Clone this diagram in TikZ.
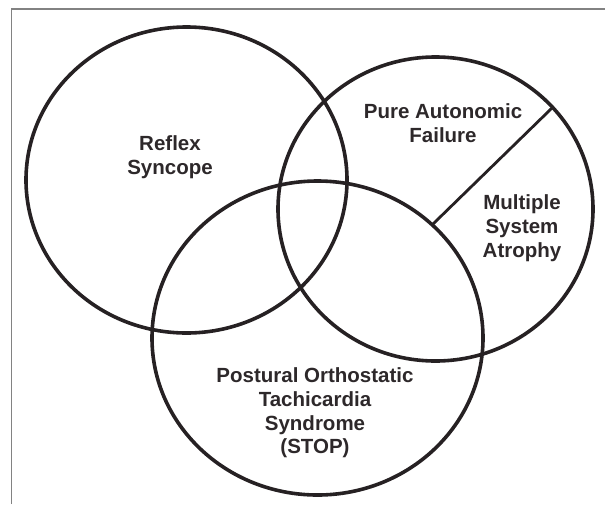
\documentclass[tikz,border=0pt]{standalone}
\usepackage{fontspec}
\usepackage{tikz}
\usetikzlibrary{positioning}
\newfontfamily\vennfont{Liberation Sans}
\definecolor{inkline}{RGB}{38,33,35}
\definecolor{inktext}{RGB}{45,40,42}
\definecolor{framegray}{RGB}{130,130,130}

\begin{document}
\begin{tikzpicture}[x=1pt, y=-1pt,
		ring/.style={line width=3.6pt, draw=inkline},
		divider/.style={line width=2.8pt, draw=inkline},
		label/.style={font=\vennfont\bfseries\fontsize{20.5}{23.7}\selectfont, text=inktext, align=center, inner sep=0pt}]
		\useasboundingbox (0,0) rectangle (605,504);

		% Frame
		\draw[framegray, line width=1.1pt] (11.5,504) -- (11.5,9) -- (605,9);

		% Reflex Syncope
		\draw[ring] (186.5,180) ellipse (160.5 and 153);
		\node[label] (reflex) at (170,157) {Reflex\\Syncope};

		% Autonomic failure circle
		\draw[ring] (435.5,209) ellipse (157.5 and 152);
		\node[label] (paf) at (443,123.5) {Pure Autonomic\\Failure};
		\node[label] (msa) at (522,228) {Multiple\\System\\Atrophy};

		% Dividing line
		\coordinate (divtop) at (552,108);
		\coordinate (divlow) at (433,224);
		\draw[divider] (divtop) -- (divlow);

		% Postural Orthostatic Tachicardia Syndrome
		\draw[ring] (317.5,338) ellipse (165.5 and 157);
		\node[label] (stop) at (315,413) {Postural Orthostatic\\Tachicardia\\Syndrome\\(STOP)};
	\end{tikzpicture}
\end{document}
